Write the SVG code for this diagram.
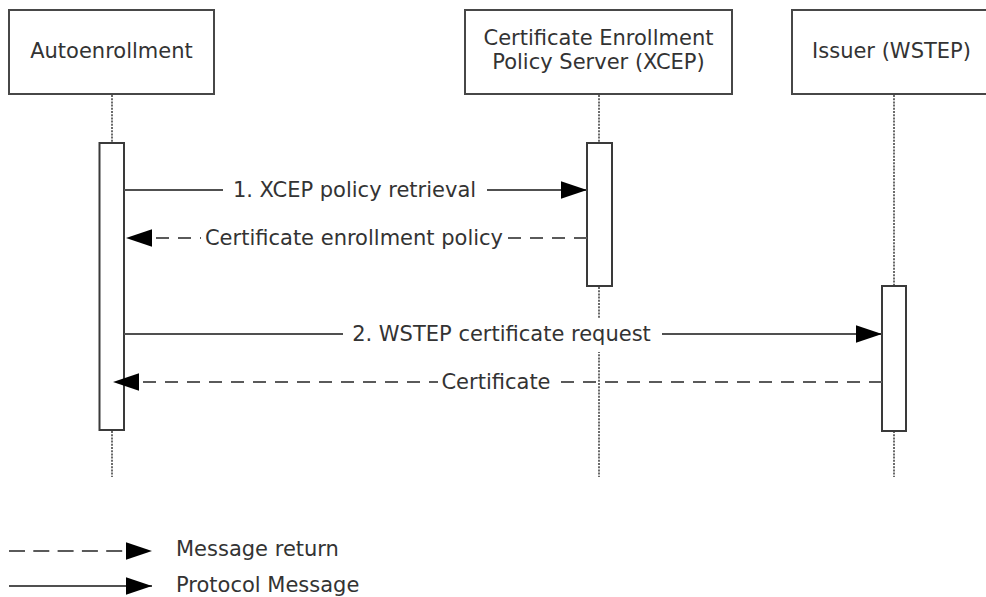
<svg xmlns="http://www.w3.org/2000/svg" width="986" height="597" viewBox="0 0 986 597">
  <style>
    .box { fill: #fff; stroke: #474747; stroke-width: 2; }
    .bar { fill: #fff; stroke: #3a3a3a; stroke-width: 2; }
    .life { stroke: #6a6a6a; stroke-width: 2; stroke-dasharray: 2 1.2; fill: none; }
    .msg { stroke: #505050; stroke-width: 2; fill: none; }
    .ret { stroke: #5a5a5a; stroke-width: 2; fill: none; stroke-dasharray: 13 9; }
    .lret { stroke: #5a5a5a; stroke-width: 2; fill: none; stroke-dasharray: 16 8.3; }
    .bg { fill: #fff; stroke: none; }
    text { font-family: "DejaVu Sans", Verdana, sans-serif; font-size: 21px; fill: #333; }
    .c { text-anchor: middle; }
  </style>
  <defs>
    <marker id="ah" markerUnits="userSpaceOnUse" markerWidth="26" markerHeight="18" viewBox="0 0 24 16" refX="24" refY="8" orient="auto">
      <path d="M0,0 L24,8 L0,16 Z" fill="#000" stroke="none"/>
    </marker>
  </defs>

  <g id="lifelines">
    <line class="life" x1="112" y1="95" x2="112" y2="477"/>
    <line class="life" x1="599" y1="95" x2="599" y2="477"/>
    <line class="life" x1="894" y1="95" x2="894" y2="477"/>
  </g>

  <g id="autoenrollment">
    <rect class="box" x="9" y="10" width="205" height="84"/>
    <text class="c" x="111.5" y="58">Autoenrollment</text>
    <rect class="bar" x="99.5" y="143" width="24.5" height="287"/>
  </g>

  <g id="xcep">
    <rect class="box" x="465" y="10" width="267" height="84"/>
    <text class="c" x="598.5" y="45">Certificate Enrollment</text>
    <text class="c" x="598.5" y="69">Policy Server (XCEP)</text>
    <rect class="bar" x="587" y="143" width="25" height="143"/>
  </g>

  <g id="wstep">
    <rect class="box" x="792" y="10" width="204" height="84"/>
    <text class="c" x="891.5" y="58">Issuer (WSTEP)</text>
    <rect class="bar" x="882" y="286" width="24" height="145"/>
  </g>

  <g id="connectors">
    <g id="m1">
      <line class="msg" x1="124" y1="190" x2="587" y2="190" marker-end="url(#ah)"/>
      <rect class="bg" x="223" y="174" width="264" height="34"/>
      <text class="c" x="354.5" y="197">1. XCEP policy retrieval</text>
    </g>
    <g id="r1">
      <line class="ret" x1="587" y1="238" x2="126" y2="238" marker-end="url(#ah)"/>
      <rect class="bg" x="201" y="222" width="305" height="34"/>
      <text class="c" x="354" y="244.5">Certificate enrollment policy</text>
    </g>
    <g id="m2">
      <line class="msg" x1="124" y1="334" x2="882" y2="334" marker-end="url(#ah)"/>
      <rect class="bg" x="343" y="318" width="319" height="34"/>
      <text class="c" x="501.5" y="341">2. WSTEP certificate request</text>
    </g>
    <g id="r2">
      <line class="ret" x1="882" y1="382" x2="113" y2="382" marker-end="url(#ah)"/>
      <rect class="bg" x="438" y="366" width="115" height="30"/>
      <text class="c" x="496" y="388.5">Certificate</text>
    </g>
  </g>

  <g id="legend">
    <line class="lret" x1="9" y1="551" x2="152" y2="551" marker-end="url(#ah)"/>
    <text x="176" y="556">Message return</text>
    <line class="msg" x1="9" y1="586" x2="152" y2="586" marker-end="url(#ah)"/>
    <text x="176" y="591.5">Protocol Message</text>
  </g>
</svg>
